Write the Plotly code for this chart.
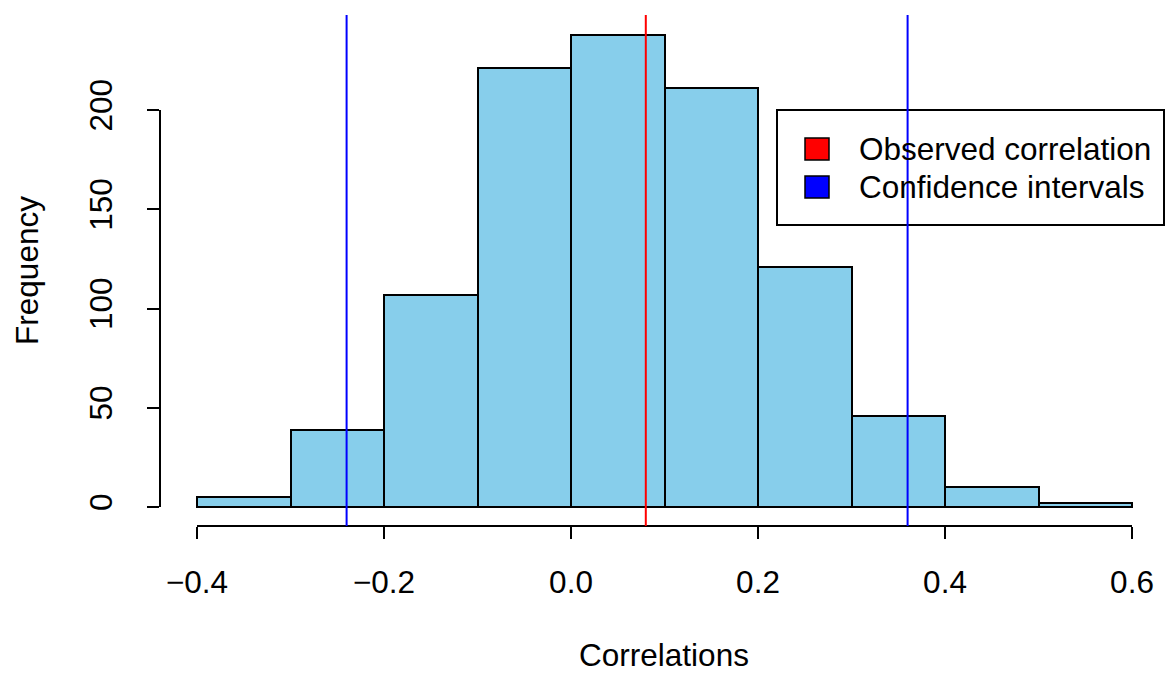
import plotly.graph_objects as go

# ---- data ----
bin_edges = [-0.4, -0.3, -0.2, -0.1, 0.0, 0.1, 0.2, 0.3, 0.4, 0.5, 0.6]
counts = [5, 39, 107, 221, 238, 211, 121, 46, 10, 2]
observed_corr = 0.08
ci_bounds = [-0.24, 0.36]
x_tickvals = [-0.4, -0.2, 0.0, 0.2, 0.4, 0.6]
x_ticktext = ["\u22120.4", "\u22120.2", "0.0", "0.2", "0.4", "0.6"]
y_tickvals = [0, 50, 100, 150, 200]
y_ticktext = ["0", "50", "100", "150", "200"]
legend_labels = ["Observed correlation", "Confidence intervals"]
legend_colors = ["red", "blue"]

centers = [(a + b) / 2 for a, b in zip(bin_edges[:-1], bin_edges[1:])]
widths = [b - a for a, b in zip(bin_edges[:-1], bin_edges[1:])]

W, H = 1168, 673
L, R, T, B = 160, 0, 15, 147
pw, ph = W - L - R, H - T - B

def px(xp):
    return (xp - L) / pw

def py(yp):
    return (H - B - yp) / ph

FONT = "Liberation Sans, Arial, sans-serif"
FS = 31.5

fig = go.Figure()
fig.add_trace(go.Bar(
    x=centers, y=counts, width=widths,
    marker=dict(color="#87CEEB", line=dict(color="black", width=2)),
    showlegend=False, hoverinfo="x+y",
))

shapes = []
# axis lines (R style)
shapes.append(dict(type="line", xref="x", yref="paper", x0=x_tickvals[0], x1=x_tickvals[-1],
                   y0=0, y1=0, line=dict(color="black", width=2)))
shapes.append(dict(type="line", xref="paper", yref="y", x0=0, x1=0,
                   y0=y_tickvals[0], y1=y_tickvals[-1], line=dict(color="black", width=2)))

# legend box
lx0, lx1, ly0, ly1 = 777, 1164, 110, 225
shapes.append(dict(type="rect", xref="paper", yref="paper", x0=px(lx0), x1=px(lx1),
                   y0=py(ly1), y1=py(ly0), fillcolor="white", line=dict(color="black", width=2)))
ann = []
row_y = [149, 187]
for lab, col, ry in zip(legend_labels, legend_colors, row_y):
    shapes.append(dict(type="rect", xref="paper", yref="paper", x0=px(805), x1=px(829),
                       y0=py(ry + 11), y1=py(ry - 11), fillcolor=col,
                       line=dict(color="black", width=1.5)))
    ann.append(dict(text=lab, xref="paper", yref="paper", x=px(857), y=py(ry),
                    xanchor="left", yanchor="middle", showarrow=False,
                    font=dict(family=FONT, size=FS, color="black")))

# vertical reference lines
shapes.append(dict(type="line", xref="x", yref="paper", x0=observed_corr, x1=observed_corr,
                   y0=0, y1=1, line=dict(color="red", width=2)))
for c in ci_bounds:
    shapes.append(dict(type="line", xref="x", yref="paper", x0=c, x1=c,
                       y0=0, y1=1, line=dict(color="blue", width=2)))

# ranges matching R's 4% extension, mapped to pixel layout
xppu = 935.0  # pixels per unit
x_range = [-0.4 - (197 - L) / xppu, -0.4 + (W - R - 197) / xppu]
yppu = 1.985
y_range = [-(H - B - 507) / yppu, (507 - T) / yppu]

fig.update_layout(
    width=W, height=H,
    margin=dict(l=L, r=R, t=T, b=B, pad=0),
    paper_bgcolor="white", plot_bgcolor="white",
    font=dict(family=FONT, size=FS, color="black"),
    shapes=shapes, annotations=ann,
    bargap=0,
    xaxis=dict(range=x_range, tickvals=x_tickvals, ticktext=x_ticktext,
               showgrid=False, zeroline=False, showline=False, automargin=False,
               ticks="outside", ticklen=12, tickwidth=2, tickcolor="black",
               tickfont=dict(family=FONT, size=FS, color="black"), ticklabelstandoff=16,
               title=dict(text="Correlations", standoff=57,
                          font=dict(family=FONT, size=FS, color="black"))),
    yaxis=dict(range=y_range, tickvals=y_tickvals, ticktext=y_ticktext,
               showgrid=False, zeroline=False, showline=False, automargin=False,
               ticks="outside", ticklen=12, tickwidth=2, tickcolor="black", tickangle=-90,
               tickfont=dict(family=FONT, size=FS, color="black"), ticklabelstandoff=22,
               title=dict(text="Frequency", standoff=35,
                          font=dict(family=FONT, size=FS, color="black"))),
)

fig.write_html("out.html")
